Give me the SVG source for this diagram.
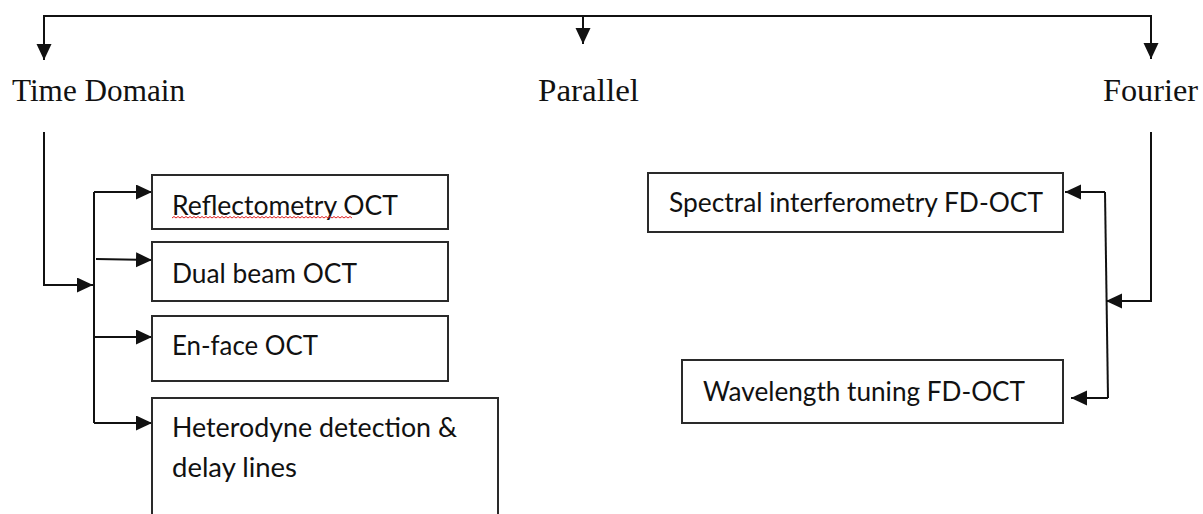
<svg xmlns="http://www.w3.org/2000/svg" width="1203" height="514" viewBox="0 0 1203 514">
  <style>
    .box { fill: #ffffff; stroke: #2a2a2a; stroke-width: 2; }
    .wire { fill: none; stroke: #111111; stroke-width: 2; }
    .head { font-family: "Liberation Serif", "Times New Roman", serif; font-size: 31px; fill: #111111; }
    .lbl { font-family: Lato, "Liberation Sans", Arial, sans-serif; font-size: 27px; fill: #111111; }
    .squiggle { fill: none; stroke: #e02020; stroke-width: 1; }
  </style>
  <defs>
    <marker id="arrow" markerUnits="userSpaceOnUse" markerWidth="17" markerHeight="16" refX="16" refY="7.5" orient="auto">
      <path d="M0,0 L16,7.5 L0,15 Z" fill="#111111"/>
    </marker>
  </defs>
  <rect width="1203" height="514" fill="#ffffff"/>

  <!-- connectors -->
  <g id="connectors">
    <!-- top distribution bar -->
    <path class="wire" d="M583,16 H44 V60" marker-end="url(#arrow)"/>
    <path class="wire" d="M583,16 H1151 V59" marker-end="url(#arrow)"/>
    <path class="wire" d="M583,16 V44" marker-end="url(#arrow)"/>

    <!-- time domain branch -->
    <path class="wire" d="M44,132 V285 H93" marker-end="url(#arrow)"/>
    <path class="wire" d="M94,192 V423"/>
    <path class="wire" d="M94,192 H152" marker-end="url(#arrow)"/>
    <path class="wire" d="M96,259 L152,260" marker-end="url(#arrow)"/>
    <path class="wire" d="M94,337 H152" marker-end="url(#arrow)"/>
    <path class="wire" d="M94,423 H152" marker-end="url(#arrow)"/>

    <!-- fourier branch -->
    <path class="wire" d="M1151,132 V301 H1106" marker-end="url(#arrow)"/>
    <path class="wire" d="M1105,192 L1108,398"/>
    <path class="wire" d="M1105,192 H1065" marker-end="url(#arrow)"/>
    <path class="wire" d="M1108,398 H1071" marker-end="url(#arrow)"/>
  </g>

  <!-- category headings -->
  <g id="time-domain">
    <text class="head" x="12" y="101" textLength="173" lengthAdjust="spacingAndGlyphs">Time Domain</text>
  </g>
  <g id="parallel">
    <text class="head" x="538" y="101" textLength="101" lengthAdjust="spacingAndGlyphs">Parallel</text>
  </g>
  <g id="fourier">
    <text class="head" x="1103" y="101" textLength="95" lengthAdjust="spacingAndGlyphs">Fourier</text>
  </g>

  <!-- time domain methods -->
  <g id="reflectometry-oct">
    <rect class="box" x="152" y="175" width="296" height="54"/>
    <text class="lbl" x="172" y="215" textLength="226" lengthAdjust="spacingAndGlyphs">Reflectometry OCT</text>
    <path class="squiggle" d="M172,218 l2,-1.5 l2,1.5 l2,-1.5 l2,1.5 l2,-1.5 l2,1.5 l2,-1.5 l2,1.5 l2,-1.5 l2,1.5 l2,-1.5 l2,1.5 l2,-1.5 l2,1.5 l2,-1.5 l2,1.5 l2,-1.5 l2,1.5 l2,-1.5 l2,1.5 l2,-1.5 l2,1.5 l2,-1.5 l2,1.5 l2,-1.5 l2,1.5 l2,-1.5 l2,1.5 l2,-1.5 l2,1.5 l2,-1.5 l2,1.5 l2,-1.5 l2,1.5 l2,-1.5 l2,1.5 l2,-1.5 l2,1.5 l2,-1.5 l2,1.5 l2,-1.5 l2,1.5 l2,-1.5 l2,1.5 l2,-1.5 l2,1.5 l2,-1.5 l2,1.5 l2,-1.5 l2,1.5 l2,-1.5 l2,1.5 l2,-1.5 l2,1.5 l2,-1.5 l2,1.5 l2,-1.5 l2,1.5 l2,-1.5 l2,1.5 l2,-1.5 l2,1.5 l2,-1.5 l2,1.5 l2,-1.5 l2,1.5 l2,-1.5 l2,1.5 l2,-1.5 l2,1.5 l2,-1.5 l2,1.5 l2,-1.5 l2,1.5 l2,-1.5 l2,1.5 l2,-1.5 l2,1.5 l2,-1.5 l2,1.5 l2,-1.5 l2,1.5 l2,-1.5 l2,1.5 l2,-1.5 l2,1.5 l2,-1.5 l2,1.5 l2,-1.5 l2,1.5"/>
  </g>
  <g id="dual-beam-oct">
    <rect class="box" x="152" y="242" width="296" height="59"/>
    <text class="lbl" x="172" y="283" textLength="185" lengthAdjust="spacingAndGlyphs">Dual beam OCT</text>
  </g>
  <g id="en-face-oct">
    <rect class="box" x="152" y="316" width="296" height="65"/>
    <text class="lbl" x="172" y="355" textLength="146" lengthAdjust="spacingAndGlyphs">En-face OCT</text>
  </g>
  <g id="heterodyne-detection">
    <rect class="box" x="152" y="398" width="346" height="140"/>
    <text class="lbl" x="172" y="437" textLength="285" lengthAdjust="spacingAndGlyphs">Heterodyne detection &amp;</text>
    <text class="lbl" x="172" y="477" textLength="125" lengthAdjust="spacingAndGlyphs">delay lines</text>
  </g>

  <!-- fourier domain methods -->
  <g id="spectral-interferometry">
    <rect class="box" x="648" y="173" width="415" height="59"/>
    <text class="lbl" x="669" y="212" textLength="374" lengthAdjust="spacingAndGlyphs">Spectral interferometry FD-OCT</text>
  </g>
  <g id="wavelength-tuning">
    <rect class="box" x="682" y="360" width="381" height="63"/>
    <text class="lbl" x="703" y="401" textLength="322" lengthAdjust="spacingAndGlyphs">Wavelength tuning FD-OCT</text>
  </g>
</svg>
